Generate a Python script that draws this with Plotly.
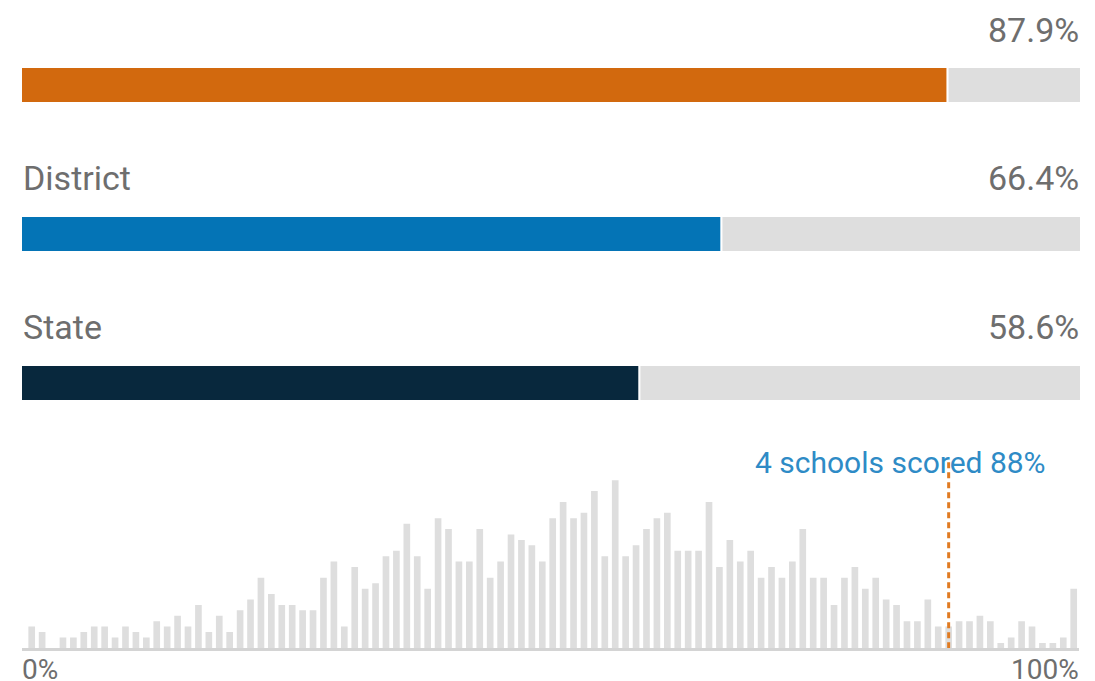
import plotly.graph_objects as go

W, H = 1095, 681

# Proficiency rates for the school, its district and the state
groups = ["", "District", "State"]
rates = [87.9, 66.4, 58.6]
group_colors = ["#D2690E", "#0474B6", "#08283D"]

# Distribution of school scores (number of schools at each whole percent)
score_pct = list(range(0, 101))
school_counts = [
    4, 3, 0, 2, 2, 3, 4, 4, 2, 4,
    3, 2, 5, 4, 6, 4, 8, 3, 6, 3,
    7, 9, 13, 10, 8, 8, 7, 7, 13, 16,
    4, 15, 11, 12, 17, 18, 23, 17, 11, 24,
    22, 16, 16, 22, 13, 16, 21, 20, 19, 16,
    24, 27, 24, 25, 29, 17, 31, 17, 19, 22,
    24, 25, 18, 18, 18, 27, 15, 20, 16, 18,
    13, 15, 13, 16, 22, 13, 13, 8, 13, 15,
    11, 13, 9, 8, 5, 5, 9, 4, 4, 5,
    5, 6, 5, 1, 2, 5, 4, 1, 1, 2,
    11,
]
highlight_pct = 88
highlight_text = f"{school_counts[highlight_pct]} schools scored {highlight_pct}%"

axis_labels = ["0%", "100%"]

TRACK = "#DEDEDE"
TEXT = "#6E6E6E"
FONT = "Roboto"


def px_x(p):
    return p / W


def px_y(p):
    return 1 - p / H


fig = go.Figure()

rows = list(range(len(groups)))
gap = 0.2          # white seam between filled part and track, in percent units
track_end = 100.6  # grey track runs slightly past the 100% mark

# filled part of each rate bar
fig.add_trace(go.Bar(
    y=rows, x=rates, base=[0] * len(rates), orientation="h",
    marker=dict(color=group_colors, line=dict(width=0)),
    width=0.228, xaxis="x", yaxis="y", hoverinfo="skip",
))
# grey remainder track
fig.add_trace(go.Bar(
    y=rows, x=[track_end - r - gap for r in rates], base=[r + gap for r in rates],
    orientation="h", marker=dict(color=TRACK, line=dict(width=0)),
    width=0.228, xaxis="x", yaxis="y", hoverinfo="skip",
))

# histogram of school scores
fig.add_trace(go.Bar(
    x=score_pct, y=school_counts, width=0.64,
    marker=dict(color=TRACK, line=dict(width=0)),
    xaxis="x2", yaxis="y2", hoverinfo="skip",
))

hist_bottom_px, hist_top_px = 648.3, 462
unit_px = 5.42
hist_top_val = (hist_bottom_px - hist_top_px) / unit_px

# marker line at the school's own score
fig.add_trace(go.Scatter(
    x=[highlight_pct, highlight_pct], y=[0, hist_top_val], mode="lines",
    line=dict(color="#E07B22", width=3, dash="6px,4px"),
    xaxis="x2", yaxis="y2", hoverinfo="skip",
))

# top block: rows centred at 85 + 149*i px
top_lo, top_hi = 0, 420
r0 = (top_lo - 85) / 149
r1 = (top_hi - 85) / 149

# histogram x mapping: bar i centred at 31.7 + 10.42*i px
hx0, hx1 = 22, 1079
hr0 = (hx0 - 31.7) / 10.42
hr1 = (hx1 - 31.7) / 10.42

fig.update_layout(
    width=W, height=H,
    margin=dict(l=0, r=0, t=0, b=0),
    paper_bgcolor="white", plot_bgcolor="white",
    showlegend=False, barmode="overlay",
    xaxis=dict(domain=[px_x(22), px_x(1080)], range=[0, track_end],
               visible=False, fixedrange=True),
    yaxis=dict(domain=[px_y(top_hi), px_y(top_lo)], range=[r1, r0],
               visible=False, fixedrange=True),
    xaxis2=dict(domain=[px_x(hx0), px_x(hx1)], range=[hr0, hr1],
                showgrid=False, zeroline=False, showticklabels=False,
                ticks="", showline=True, linecolor="#D4D4D4", linewidth=3,
                anchor="y2", fixedrange=True),
    yaxis2=dict(domain=[px_y(hist_bottom_px), px_y(hist_top_px)],
                range=[0, hist_top_val], visible=False, anchor="x2",
                fixedrange=True),
)

annotations = []
label_y = [30, 178, 327]
for i, g in enumerate(groups):
    if g:
        annotations.append(dict(
            text=g, x=px_x(21), y=px_y(label_y[i]), xref="paper", yref="paper",
            xanchor="left", yanchor="middle", showarrow=False,
            font=dict(family=FONT, size=34, color=TEXT),
        ))
    annotations.append(dict(
        text=f"{rates[i]:.1f}%", x=px_x(1081), y=px_y(label_y[i]),
        xref="paper", yref="paper", xanchor="right", yanchor="middle",
        showarrow=False, font=dict(family=FONT, size=34, color=TEXT),
    ))

annotations.append(dict(
    text=highlight_text, x=px_x(1048), y=px_y(463), xref="paper", yref="paper",
    xanchor="right", yanchor="middle", showarrow=False,
    font=dict(family=FONT, size=30, color="#2E8BC6"),
))
annotations.append(dict(
    text=axis_labels[0], x=px_x(20), y=px_y(669), xref="paper", yref="paper",
    xanchor="left", yanchor="middle", showarrow=False,
    font=dict(family=FONT, size=28, color=TEXT),
))
annotations.append(dict(
    text=axis_labels[1], x=px_x(1081), y=px_y(669), xref="paper", yref="paper",
    xanchor="right", yanchor="middle", showarrow=False,
    font=dict(family=FONT, size=28, color=TEXT),
))
fig.update_layout(annotations=annotations)

fig.write_html("out.html")
